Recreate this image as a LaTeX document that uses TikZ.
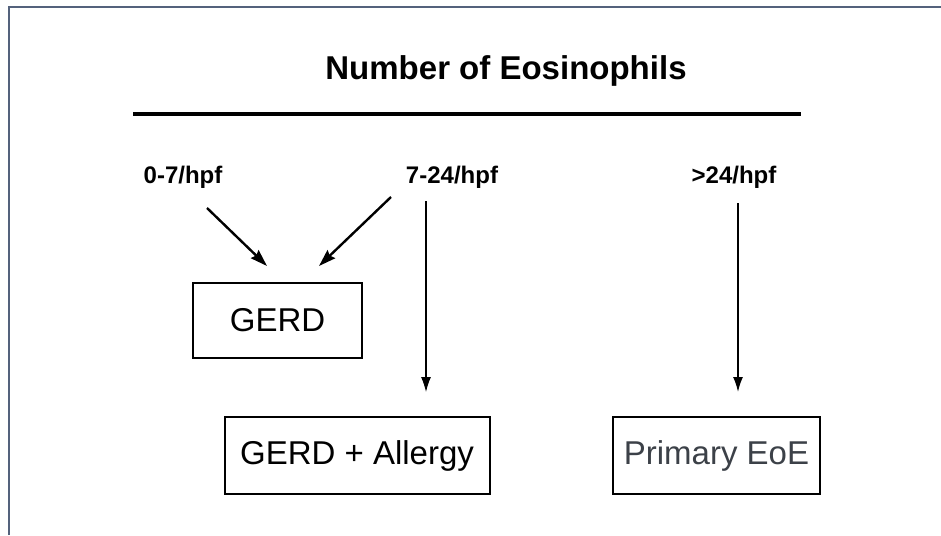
\documentclass[tikz,border=0pt]{standalone}
\usepackage{fontspec}
\setmainfont{Liberation Sans}
\usetikzlibrary{arrows.meta}
\definecolor{framecol}{RGB}{84,98,124}
\definecolor{eoegray}{RGB}{60,65,72}
\begin{document}
\begin{tikzpicture}[x=1pt,y=-1pt,
  titletext/.style={font=\bfseries\fontsize{33}{38}\selectfont, anchor=base, inner sep=0},
  lvltext/.style={font=\bfseries\fontsize{24}{28}\selectfont, anchor=base, inner sep=0},
  diagbox/.style={draw, line width=2pt, inner sep=0, font=\fontsize{33}{38}\selectfont},
  thickarrow/.style={line width=2.4pt, -{Stealth[length=17pt,width=11pt,inset=2pt]}},
  thinarrow/.style={-{Latex[length=15pt,width=10pt]}}
]
\useasboundingbox (0,0) rectangle (941,535);
\fill[white] (0,0) rectangle (941,535);
% frame
\draw[framecol, line width=2.2pt] (9,535) -- (9,7) -- (941,7);

% title and rule
\node[titletext] (title) at (506,79) {Number of Eosinophils};
\coordinate (ruleL) at (133,114);
\coordinate (ruleR) at (801,114);
\draw[line width=4pt] (ruleL) -- (ruleR);

% level labels
\node[lvltext] (l1) at (183,183) {0-7/hpf};
\node[lvltext] (l2) at (452,183) {7-24/hpf};
\node[lvltext] (l3) at (734,183) {>24/hpf};

% boxes
\node[diagbox, minimum width=169pt, minimum height=75pt] (gerd) at (277.5,320.5) {GERD};
\node[diagbox, minimum width=265pt, minimum height=77pt] (allergy) at (357,455.5) {GERD + Allergy};
\node[diagbox, minimum width=207pt, minimum height=77pt, text=eoegray] (eoe) at (716.5,455.5) {Primary EoE};

% arrow end points
\coordinate (a1s) at (207,208);
\coordinate (a1e) at (267,266);
\coordinate (a2s) at (391,197);
\coordinate (a2e) at (319,266);
\coordinate (a3s) at (426,201);
\coordinate (a3e) at (426,392);
\coordinate (a4s) at (738,203);
\coordinate (a4e) at (738,392);

\draw[thickarrow] (a1s) -- (a1e);
\draw[thickarrow] (a2s) -- (a2e);
\draw[thinarrow, line width=1.1pt] (a3s) -- (a3e);
\draw[thinarrow, line width=1.6pt] (a4s) -- (a4e);
\end{tikzpicture}
\end{document}
